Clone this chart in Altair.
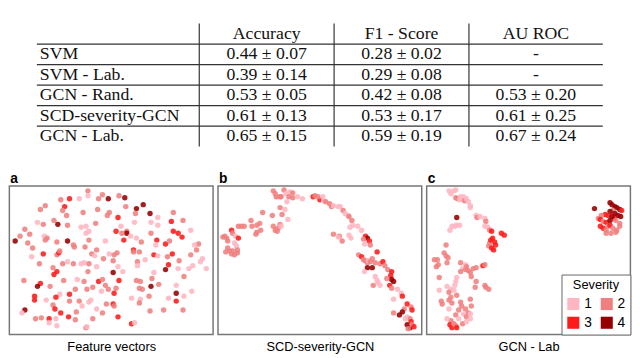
import altair as alt
import pandas as pd

# ---------------- table data ----------------
methods = ["SVM", "SVM - Lab.", "GCN - Rand.", "SCD-severity-GCN", "GCN - Lab."]
metrics = ["Accuracy", "F1 - Score", "AU ROC"]
accuracy = ["0.44 ± 0.07", "0.39 ± 0.14", "0.53 ± 0.05", "0.61 ± 0.13", "0.65 ± 0.15"]
f1_score = ["0.28 ± 0.02", "0.29 ± 0.08", "0.42 ± 0.08", "0.53 ± 0.17", "0.59 ± 0.19"]
au_roc = ["-", "-", "0.53 ± 0.20", "0.61 ± 0.25", "0.67 ± 0.24"]

# ---------------- scatter data (t-SNE style embeddings) ----------------
severity_levels = [1, 2, 3, 4]
severity_colors = ["#ffb6c1", "#f08080", "#ff1a1a", "#960000"]

a_x = [81, 81, 53, 62, 72, 92, 96, 102, 37, 32, 57, 55, 76, 91, 101, 103, 59, 46, 29, 35,
       50, 60, 74, 79, 82, 79, 89, 16, 21, 11, 6, 36, 39, 37, 60, 49, 82, 99, 19, 24,
       66, 67, 78, 90, 35, 49, 51, 23, 52, 85, 88, 97, 103, 31, 45, 55, 60, 66, 74, 77,
       82, 90, 49, 46, 81, 56, 70, 77, 92, 96, 99, 15, 32, 29, 42, 52, 62, 68, 80, 86,
       95, 102, 26, 26, 38, 48, 62, 72, 84, 82, 100, 45, 47, 75, 90, 16, 13, 53, 69, 96,
       27, 33, 41, 48, 41, 49, 61, 68, 86, 79, 80,
       113, 119, 120, 131, 138, 130, 145, 153, 146, 129, 115, 121, 121, 110, 116, 125, 112, 153, 167, 169,
       179, 187, 169, 174, 178, 146, 136, 131, 118, 152, 151, 161, 165, 195, 191, 193, 203, 199, 197, 185,
       189, 187, 128, 128, 134, 149, 153, 163, 168, 175, 164, 161, 174, 149, 140, 132, 132, 111, 108, 107,
       112, 107, 117, 147, 154, 146, 131, 135, 134, 137, 113, 110, 108, 126, 135, 134, 144, 164, 172, 172,
       180, 172, 180, 188, 107, 108, 112, 145, 159, 179, 126, 129]
a_y = [5, 10, 14, 13, 13, 13, 9, 13, 20, 24, 21, 25, 27, 24, 30, 27, 30, 35, 37, 39,
       39, 40, 42, 41, 46, 48, 38, 44, 49, 51, 56, 51, 53, 55, 56, 57, 55, 56, 58, 63,
       60, 62, 62, 65, 69, 70, 68, 72, 66, 69, 71, 74, 69, 79, 83, 79, 77, 79, 79, 78,
       79, 82, 87, 90, 87, 96, 95, 97, 97, 95, 101, 96, 99, 102, 102, 110, 110, 105, 105, 103,
       107, 105, 112, 116, 116, 113, 117, 117, 116, 118, 120, 121, 125, 122, 125, 126, 129, 129, 128, 129,
       135, 134, 135, 135, 139, 142, 133, 136, 135, 144, 143,
       10, 12, 21, 23, 19, 28, 28, 32, 37, 37, 41, 46, 48, 46, 48, 51, 32, 40, 36, 27,
       35, 45, 46, 48, 52, 48, 57, 53, 55, 55, 60, 59, 56, 59, 60, 65, 84, 74, 77, 84,
       81, 70, 65, 67, 67, 70, 71, 72, 69, 76, 80, 85, 84, 88, 75, 77, 81, 68, 70, 76,
       82, 88, 87, 94, 100, 102, 96, 97, 104, 105, 96, 104, 109, 114, 115, 119, 112, 114, 109, 117,
       92, 101, 112, 107, 120, 122, 133, 127, 126, 126, 140, 139]
a_sev = [2, 1, 2, 3, 1, 2, 2, 4, 2, 2, 3, 2, 2, 2, 2, 2, 2, 2, 1, 2,
         4, 2, 1, 1, 1, 1, 2, 2, 2, 2, 4, 1, 2, 2, 4, 2, 2, 1, 2, 2,
         2, 2, 2, 2, 3, 2, 3, 1, 2, 2, 1, 2, 1, 2, 2, 2, 1, 2, 1, 1,
         2, 1, 3, 3, 2, 2, 1, 2, 3, 2, 2, 2, 3, 4, 2, 1, 3, 2, 2, 2,
         1, 2, 3, 3, 1, 3, 2, 2, 1, 1, 2, 2, 3, 1, 1, 4, 1, 3, 2, 2,
         2, 2, 3, 1, 1, 1, 3, 2, 2, 2, 1,
         2, 4, 2, 4, 4, 2, 4, 1, 1, 1, 1, 2, 4, 3, 2, 1, 3, 1, 3, 2,
         2, 1, 3, 3, 3, 2, 2, 1, 3, 3, 1, 3, 2, 2, 1, 2, 1, 1, 1, 1,
         1, 2, 3, 2, 2, 3, 1, 2, 3, 2, 3, 4, 1, 1, 1, 2, 1, 2, 2, 2,
         1, 4, 1, 2, 2, 4, 2, 2, 2, 2, 3, 2, 3, 1, 1, 2, 2, 1, 4, 3,
         2, 1, 1, 1, 3, 2, 3, 2, 2, 2, 3, 1]

b_x = [57, 59, 61, 64, 68, 70, 74, 77, 73, 77, 82, 87, 65, 60, 98, 100, 71, 64, 69, 46,
       56, 66, 72, 34, 35, 40, 43, 44, 40, 39, 57, 59, 61, 62, 64, 65, 21, 24, 27, 14,
       15, 18, 21, 7, 5, 9, 10, 17, 19, 20, 10, 12, 14, 17, 20, 8, 15,
       105, 103, 108, 109, 111, 115, 117, 119, 124, 126, 129, 131, 134, 135, 138, 139, 136, 144, 148, 152,
       154, 150, 156, 157, 151, 119, 125, 124, 128, 135, 137, 145, 148, 150, 152, 154, 155, 157, 159, 164,
       162, 167, 170, 172, 154, 159, 151, 175, 179, 162, 164, 165, 167, 160, 178, 179, 181, 174, 177, 179,
       185, 189, 190, 181, 195, 192, 199, 200, 190, 187, 181, 195, 198, 199, 195, 198, 200, 196, 202, 193]
b_y = [5, 8, 11, 11, 4, 8, 6, 7, 11, 12, 11, 13, 11, 11, 11, 10, 16, 22, 24, 27,
       30, 29, 34, 35, 41, 40, 38, 45, 47, 49, 41, 45, 46, 43, 39, 41, 41, 41, 41, 45,
       48, 51, 53, 51, 52, 53, 56, 58, 61, 65, 63, 66, 69, 70, 68, 67, 66,
       14, 11, 11, 15, 16, 18, 21, 20, 21, 21, 25, 28, 30, 31, 35, 40, 42, 41, 45, 51,
       53, 54, 56, 60, 59, 49, 51, 52, 56, 50, 53, 70, 72, 75, 76, 78, 76, 77, 74, 67,
       78, 79, 77, 81, 83, 83, 87, 85, 87, 92, 96, 98, 101, 101, 91, 95, 97, 94, 101, 104,
       105, 109, 112, 115, 120, 125, 123, 126, 128, 131, 129, 133, 135, 138, 141, 144, 141, 145, 143, 135]
b_sev = [2, 2, 1, 2, 2, 1, 1, 2, 2, 2, 1, 1, 2, 2, 3, 2, 1, 2, 1, 2,
         2, 2, 1, 2, 2, 2, 2, 2, 2, 2, 2, 2, 2, 2, 2, 1, 2, 2, 2, 3,
         2, 1, 3, 2, 2, 2, 2, 1, 1, 2, 2, 2, 2, 2, 2, 2, 2,
         3, 2, 1, 1, 2, 2, 2, 1, 1, 1, 2, 1, 1, 2, 2, 1, 1, 1, 1, 3,
         4, 2, 3, 2, 1, 2, 2, 1, 2, 1, 1, 2, 3, 2, 2, 2, 1, 2, 2, 3,
         2, 2, 3, 2, 4, 4, 1, 2, 3, 1, 1, 1, 1, 2, 3, 4, 4, 2, 3, 2,
         1, 1, 3, 1, 3, 2, 2, 3, 4, 4, 2, 1, 2, 3, 4, 4, 2, 2, 3, 1]

c_x = [23, 28, 30, 25, 30, 32, 34, 35, 38, 39, 41, 43, 45, 45, 31, 24, 26, 29, 31, 34,
       51, 52, 55, 60, 61, 60, 63, 65, 67, 77, 80, 68, 70, 65, 64, 67, 69, 71, 66, 20,
       18, 20, 22, 8, 11, 12, 10, 21, 13, 35, 40, 41, 37, 35, 40, 43, 45, 48, 51, 58,
       60, 46, 51, 50, 60, 61, 64, 31, 30, 29, 21, 25, 13, 23, 28, 31, 15, 16, 23, 25,
       26, 35, 36, 40, 45, 46, 33, 38, 43, 41, 45, 23, 30, 25, 24, 26, 30, 28, 31, 21,
       37, 41, 45, 33,
       173, 189, 191, 194, 196, 199, 201, 192, 189, 194, 197, 200, 187, 184, 180, 177, 179, 182, 185, 189,
       193, 195, 199, 179, 182, 185, 187, 189, 192, 196, 199, 185, 190, 195, 191]
c_y = [5, 5, 4, 8, 12, 13, 14, 11, 11, 15, 13, 16, 20, 22, 32, 45, 41, 41, 40, 40,
       30, 32, 31, 33, 36, 41, 42, 45, 46, 48, 50, 53, 57, 58, 61, 63, 65, 60, 55, 60,
       68, 71, 73, 75, 75, 80, 82, 78, 93, 78, 80, 82, 84, 87, 85, 86, 88, 84, 83, 81,
       80, 92, 97, 103, 101, 103, 105, 93, 97, 101, 102, 105, 106, 108, 106, 111, 117, 120, 116, 113,
       119, 118, 122, 125, 115, 122, 126, 130, 129, 133, 135, 125, 131, 137, 141, 144, 142, 140, 144, 135,
       140, 138, 130, 135,
       23, 17, 19, 21, 22, 24, 25, 25, 26, 28, 30, 31, 30, 29, 30, 33, 34, 36, 37, 35,
       33, 35, 38, 41, 43, 45, 41, 40, 43, 45, 41, 48, 48, 47, 31]
c_sev = [1, 1, 1, 1, 2, 2, 1, 1, 1, 2, 1, 1, 1, 1, 4, 1, 1, 1, 1, 1,
         1, 2, 1, 1, 2, 1, 1, 2, 3, 3, 3, 3, 3, 2, 2, 3, 3, 3, 3, 2,
         2, 2, 2, 2, 2, 2, 2, 2, 2, 2, 1, 2, 1, 2, 2, 2, 2, 2, 2, 3,
         2, 2, 2, 2, 2, 2, 2, 1, 1, 1, 1, 1, 1, 2, 1, 2, 2, 2, 2, 2,
         2, 2, 2, 2, 2, 2, 2, 1, 2, 2, 1, 1, 2, 2, 3, 3, 2, 2, 3, 1,
         2, 1, 1, 1,
         4, 4, 4, 4, 4, 4, 3, 2, 4, 4, 4, 4, 3, 3, 2, 2, 3, 2, 3, 4,
         3, 2, 2, 3, 3, 2, 2, 3, 2, 2, 2, 2, 2, 2, 4]

# ---------------- layout constants ----------------
COL_W = [165, 137, 137, 136]
TABLE_W = sum(COL_W)
TABLE_H = 125
N_ROWS = len(methods) + 1
PANEL_W, PANEL_H = 207, 151
DOMAIN_W, DOMAIN_H = 210, 151
SERIF = "Liberation Serif"
SANS = "Liberation Sans"

col_left = [sum(COL_W[:i]) for i in range(len(COL_W))]
col_center = [col_left[i] + COL_W[i] / 2 for i in range(len(COL_W))]

# ---------------- table ----------------
label_rows = pd.DataFrame({"row": [i + 1.5 for i in range(len(methods))],
                           "xpos": [3] * len(methods),
                           "text": methods})
value_records = []
for j, m in enumerate(metrics):
    value_records.append({"row": 0.5, "xpos": col_center[j + 1], "text": m})
for i in range(len(methods)):
    for j, col in enumerate([accuracy, f1_score, au_roc]):
        value_records.append({"row": i + 1.5, "xpos": col_center[j + 1], "text": col[i]})
value_df = pd.DataFrame(value_records)
hrule_df = pd.DataFrame({"r": list(range(1, N_ROWS)),
                         "x0": [0] * (N_ROWS - 1),
                         "x1": [TABLE_W] * (N_ROWS - 1)})
vrule_df = pd.DataFrame({"c": col_left[1:],
                         "y0": [0] * (len(col_left) - 1),
                         "y1": [N_ROWS] * (len(col_left) - 1)})

xs = alt.Scale(domain=[0, TABLE_W], nice=False, zero=False)
ys = alt.Scale(domain=[0, N_ROWS], nice=False, zero=False, reverse=True)

labels_layer = alt.Chart(label_rows).mark_text(
    font=SERIF, fontSize=18, align="left", baseline="middle", color="#111"
).encode(x=alt.X("xpos:Q", scale=xs, axis=None),
         y=alt.Y("row:Q", scale=ys, axis=None), text="text:N")
values_layer = alt.Chart(value_df).mark_text(
    font=SERIF, fontSize=18, align="center", baseline="middle", color="#111"
).encode(x=alt.X("xpos:Q", scale=xs, axis=None),
         y=alt.Y("row:Q", scale=ys, axis=None), text="text:N")
hrules = alt.Chart(hrule_df).mark_rule(color="#333", strokeWidth=1.2).encode(
    y=alt.Y("r:Q", scale=ys, axis=None),
    x=alt.X("x0:Q", scale=xs, axis=None), x2="x1:Q")
vrules = alt.Chart(vrule_df).mark_rule(color="#333", strokeWidth=1.2).encode(
    x=alt.X("c:Q", scale=xs, axis=None),
    y=alt.Y("y0:Q", scale=ys, axis=None), y2="y1:Q")

table = alt.layer(hrules, vrules, labels_layer, values_layer).properties(
    width=TABLE_W, height=TABLE_H,
    view=alt.ViewBackground(stroke="transparent"))

# ---------------- scatter panels ----------------
def panel(px, py, sev, letter, name, show_legend):
    df = pd.DataFrame({"x": px, "y": py, "severity": sev})
    if show_legend:
        color = alt.Color("severity:O",
                          scale=alt.Scale(domain=severity_levels, range=severity_colors),
                          legend=alt.Legend(
                              title="Severity", orient="bottom-right", offset=0,
                              columns=2, direction="horizontal",
                              symbolType="square", symbolSize=150,
                              symbolOpacity=1, symbolStrokeWidth=0,
                              labelFont=SANS, labelFontSize=14, labelOffset=4,
                              titleFont=SANS, titleFontSize=13, titleFontWeight="normal",
                              titleAnchor="middle", titlePadding=5, titleColor="#000",
                              labelColor="#000",
                              fillColor="white", strokeColor="#666", padding=5,
                              columnPadding=8, rowPadding=5))
    else:
        color = alt.Color("severity:O",
                          scale=alt.Scale(domain=severity_levels, range=severity_colors),
                          legend=None)
    return alt.Chart(df).mark_circle(size=30, opacity=0.88).encode(
        x=alt.X("x:Q", scale=alt.Scale(domain=[0, DOMAIN_W], nice=False, zero=False),
                axis=alt.Axis(title=name, labels=False, ticks=False, domain=False,
                              grid=False, titlePadding=6, titleFont=SANS,
                              titleFontSize=13, titleFontWeight="normal",
                              titleColor="#000")),
        y=alt.Y("y:Q", scale=alt.Scale(domain=[0, DOMAIN_H], nice=False, zero=False,
                                       reverse=True), axis=None),
        color=color,
    ).properties(
        width=PANEL_W, height=PANEL_H,
        title=alt.TitleParams(letter, anchor="start", font=SANS, fontSize=14,
                              fontWeight="bold", color="#000", offset=0, dx=1))

pa = panel(a_x, a_y, a_sev, "a", "Feature vectors", False)
pb = panel(b_x, b_y, b_sev, "b", "SCD-severity-GCN", False)
pc = panel(c_x, c_y, c_sev, "c", "GCN - Lab", True)

panels = alt.hconcat(pa, pb, pc, spacing=3).resolve_scale(
    color="independent").resolve_legend(color="independent")

chart = alt.vconcat(table, panels, spacing=23, center=True).properties(
    padding={"left": 0, "top": 11, "right": 0, "bottom": 0}
).configure_view(stroke="#777", strokeWidth=1.5)

chart.save("out.html", embed_options={"renderer": "svg", "actions": False})
